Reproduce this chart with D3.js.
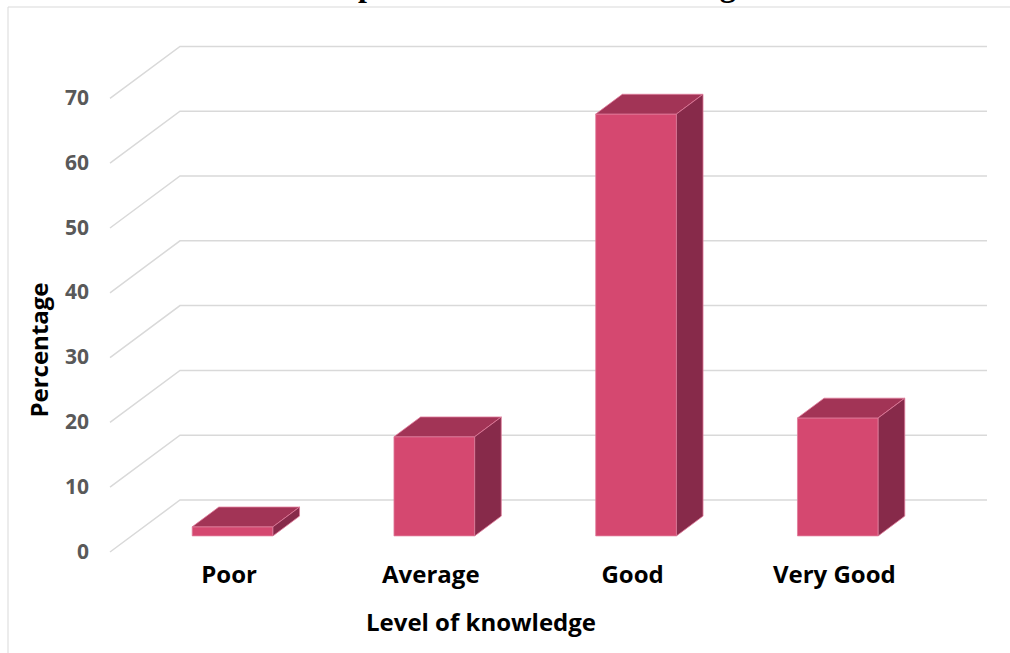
<!DOCTYPE html>
<html>
<head>
<meta charset="utf-8">
<script src="https://cdn.jsdelivr.net/npm/d3@7"></script>
<style>
  body { margin: 0; background: #fff; }
  svg { display: block; }
</style>
</head>
<body>
<div id="chart"></div>
<script>
// data
var categories = ["Poor", "Average", "Good", "Very Good"];
var percents = [1.4, 15.3, 65.1, 18.2];
var yTicks = [0, 10, 20, 30, 40, 50, 60, 70];

var width = 1010, height = 653;
// front-left corner of the floor, and the depth of the 3d box
var origin = { x: 110, y: 552 };
var depth = { dx: 70, dy: -52 };
var plotWidth = 807, plotHeight = 453.6;
var barFront = 0.31, barBack = 0.69;

var svg = d3.select("#chart")
    .append("svg")
    .attr("width", width)
    .attr("height", height);

var x = d3.scaleBand()
    .domain(categories)
    .range([0, plotWidth])
    .paddingInner(0.6)
    .paddingOuter(0.3);

var y = d3.scaleLinear()
    .domain([0, 70])
    .range([0, -plotHeight]);

// project (x along axis, value, depth fraction) to screen
function px(xv, z) { return origin.x + xv + z * depth.dx; }
function py(v, z) { return origin.y + y(v) + z * depth.dy; }

// chart frame
svg.append("path")
    .attr("d", "M8,653 L8,7 L1010,7")
    .attr("fill", "none")
    .attr("stroke", "#d9d9d9")
    .attr("stroke-width", 1);

// title - only the bottom of it shows in the picture
var title = svg.append("text")
    .attr("y", -4)
    .attr("font-family", "Liberation Serif")
    .attr("font-weight", 700)
    .attr("font-size", "32px")
    .text("Distribution of respondents' level of knowledge");
// line the "p" of respondents up with the reference
var pIndex = title.text().indexOf("p");
var pLeft = title.node().getSubStringLength(0, pIndex);
title.attr("x", 358 - pLeft);

// gridlines: left wall diagonal plus back wall horizontal
svg.append("g")
    .selectAll("path")
    .data(yTicks)
    .enter()
    .append("path")
    .attr("d", d => "M" + px(0, 0) + "," + py(d, 0) +
        " L" + px(0, 1) + "," + py(d, 1) +
        " L" + px(plotWidth, 1) + "," + py(d, 1))
    .attr("fill", "none")
    .attr("stroke", "#d9d9d9")
    .attr("stroke-width", 1.5);

// tick labels
svg.append("g")
    .selectAll("text")
    .data(yTicks)
    .enter()
    .append("text")
    .attr("x", origin.x - 21)
    .attr("y", d => py(d, 0) - 1)
    .attr("dy", "0.36em")
    .attr("text-anchor", "end")
    .attr("font-family", "Open Sans")
    .attr("font-weight", 700)
    .attr("font-size", "21px")
    .attr("fill", "#595959")
    .text(d => d);

// bars
var bars = svg.append("g")
    .selectAll("g")
    .data(categories.map((c, i) => ({ cat: c, val: percents[i] })))
    .enter()
    .append("g");

function poly(pts) {
    return "M" + pts.map(p => p[0] + "," + p[1]).join(" L") + " Z";
}

// front face
bars.append("path")
    .attr("d", d => {
        var x0 = x(d.cat), x1 = x(d.cat) + x.bandwidth();
        return poly([[px(x0, barFront), py(0, barFront)], [px(x1, barFront), py(0, barFront)],
            [px(x1, barFront), py(d.val, barFront)], [px(x0, barFront), py(d.val, barFront)]]);
    })
    .attr("fill", "#d54870");

// top face
bars.append("path")
    .attr("d", d => {
        var x0 = x(d.cat), x1 = x(d.cat) + x.bandwidth();
        return poly([[px(x0, barFront), py(d.val, barFront)], [px(x1, barFront), py(d.val, barFront)],
            [px(x1, barBack), py(d.val, barBack)], [px(x0, barBack), py(d.val, barBack)]]);
    })
    .attr("fill", "#a23456");

// side face
bars.append("path")
    .attr("d", d => {
        var x1 = x(d.cat) + x.bandwidth();
        return poly([[px(x1, barFront), py(0, barFront)], [px(x1, barBack), py(0, barBack)],
            [px(x1, barBack), py(d.val, barBack)], [px(x1, barFront), py(d.val, barFront)]]);
    })
    .attr("fill", "#872a4a");

bars.selectAll("path")
    .attr("stroke", "#e07b9a")
    .attr("stroke-width", 0.8)
    .attr("stroke-linejoin", "round");

// category labels
svg.append("g")
    .selectAll("text")
    .data(categories)
    .enter()
    .append("text")
    .attr("x", d => px(x(d) + x.bandwidth() / 2, 0.26))
    .attr("y", 583)
    .attr("text-anchor", "middle")
    .attr("font-family", "Open Sans")
    .attr("font-weight", 700)
    .attr("font-size", "24px")
    .attr("fill", "#000")
    .text(d => d);

// axis titles
svg.append("text")
    .attr("x", 481)
    .attr("y", 631)
    .attr("text-anchor", "middle")
    .attr("font-family", "Open Sans")
    .attr("font-weight", 700)
    .attr("font-size", "24px")
    .attr("fill", "#000")
    .text("Level of knowledge");

svg.append("text")
    .attr("transform", "translate(48,350) rotate(-90)")
    .attr("text-anchor", "middle")
    .attr("font-family", "Open Sans")
    .attr("font-weight", 700)
    .attr("font-size", "24px")
    .attr("fill", "#000")
    .text("Percentage");
</script>
</body>
</html>
